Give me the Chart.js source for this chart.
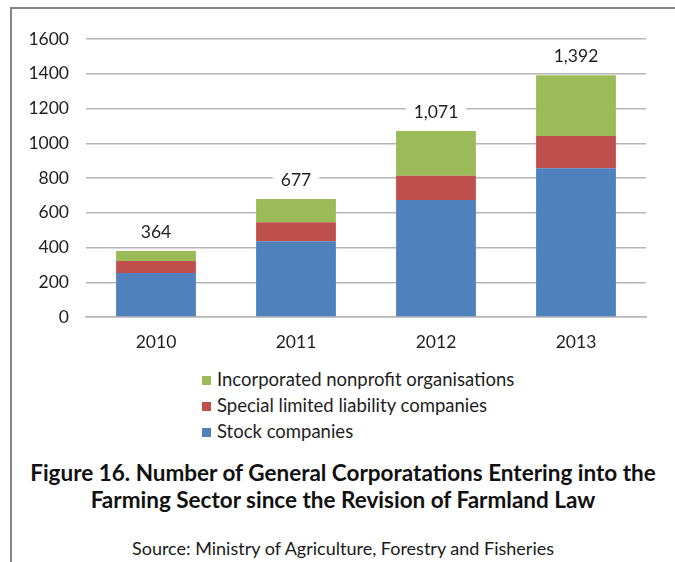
<!DOCTYPE html>
<html>
<head>
<meta charset="utf-8">
<script src="https://cdn.jsdelivr.net/npm/chart.js@4.4.1/dist/chart.umd.min.js"></script>
<style>
    body { margin: 0; background: #fff; font-family: Lato, sans-serif; color: #222; }
    #pagina { position: relative; width: 675px; height: 562px; overflow: hidden; }
    #marco { position: absolute; left: 10px; top: 7px; right: -5px; bottom: -5px;
             border-left: 2px solid #858585; border-top: 2px solid #858585; }
    #grafico { position: absolute; left: 0; top: 0; }
    #leyenda { position: absolute; left: 202px; top: 366px; font-size: 18.5px; line-height: 26px; color: #1e1e1e; }
    #leyenda .cuadro { display: inline-block; width: 9px; height: 9px; margin-right: 6px; vertical-align: 1px; }
    #titulo { position: absolute; left: 11px; width: 664px; top: 459px; text-align: center;
              font-weight: bold; font-size: 22.5px; line-height: 27px; color: #111; }
    #fuente { position: absolute; left: 11px; width: 664px; top: 536px; text-align: center;
              font-size: 18px; line-height: 24px; color: #1a1a1a; }
</style>
</head>
<body>
<div id="pagina">
    <div id="marco"></div>
    <canvas id="grafico" width="675" height="360"></canvas>
    <div id="leyenda"></div>
    <div id="titulo">Figure 16. Number of General Corporatations Entering into the<br>Farming Sector since the Revision of Farmland Law</div>
    <div id="fuente">Source: Ministry of Agriculture, Forestry and Fisheries</div>
</div>
<script>
    const anios = ['2010', '2011', '2012', '2013'];
    const sociedadesAnonimas = [253, 436, 673, 856];
    const responsabilidadLimitada = [69, 109, 140, 186];
    const sinFinesDeLucro = [58, 134, 258, 350];
    const etiquetasTotales = ['364', '677', '1,071', '1,392'];
    const ticksY = [0, 200, 400, 600, 800, 1000, 1200, 1400, 1600];

    const fuente = 'Lato, sans-serif';

    // Etiqueta del total sobre cada columna, con fondo blanco que corta la cuadrícula
    const totalesPlugin = {
        id: 'totales',
        afterDatasetsDraw: function (chart) {
            const ctx = chart.ctx;
            const escalaX = chart.scales.x;
            const escalaY = chart.scales.y;

            ctx.save();
            ctx.font = '17.5px ' + fuente;
            ctx.textAlign = 'center';
            ctx.textBaseline = 'middle';

            anios.forEach(function (anio, i) {
                const tope = chart.data.datasets.reduce(function (suma, ds) {
                    return suma + Number(ds.data[i] || 0);
                }, 0);
                const x = escalaX.getPixelForValue(i);
                const y = escalaY.getPixelForValue(tope) - 20;
                const texto = etiquetasTotales[i];
                const ancho = ctx.measureText(texto).width;

                ctx.fillStyle = '#fff';
                ctx.fillRect(x - ancho / 2 - 8, y - 11, ancho + 16, 22);
                ctx.fillStyle = '#1e1e1e';
                ctx.fillText(texto, x, y + 1);
            });
            ctx.restore();
        }
    };

    const grafico = new Chart(document.getElementById('grafico').getContext('2d'), {
        type: 'bar',
        data: {
            labels: anios,
            datasets: [
                { label: 'Stock companies', data: sociedadesAnonimas, backgroundColor: '#4f81bd' },
                { label: 'Special limited liability companies', data: responsabilidadLimitada, backgroundColor: '#c0504d' },
                { label: 'Incorporated nonprofit organisations', data: sinFinesDeLucro, backgroundColor: '#9bbb59' }
            ]
        },
        plugins: [totalesPlugin],
        options: {
            responsive: false,
            devicePixelRatio: 1,
            animation: false,
            layout: { padding: { left: 20, right: 29, top: 39, bottom: 0 } },
            datasets: {
                bar: { categoryPercentage: 1, barPercentage: 0.57, borderWidth: 0 }
            },
            scales: {
                x: {
                    stacked: true,
                    afterFit: function (escala) { escala.height = 43; },
                    grid: { display: false, drawTicks: false },
                    border: { display: true, color: '#b5b5b5', width: 1.5 },
                    ticks: { padding: 15, color: '#1e1e1e', font: { family: fuente, size: 17.5 } }
                },
                y: {
                    stacked: true,
                    min: 0,
                    max: 1600,
                    afterFit: function (escala) { escala.width = 66; },
                    afterBuildTicks: function (escala) {
                        escala.ticks = ticksY.map(function (v) { return { value: v }; });
                    },
                    grid: { color: '#b5b5b5', lineWidth: 1.5, drawTicks: false },
                    border: { display: false },
                    ticks: {
                        padding: 17,
                        color: '#1e1e1e',
                        font: { family: fuente, size: 17.5 },
                        callback: function (valor) { return String(valor); }
                    }
                }
            },
            plugins: {
                legend: { display: false },
                tooltip: { enabled: false }
            }
        }
    });

    // Leyenda en lista vertical, en orden inverso al apilado
    const leyenda = document.getElementById('leyenda');
    grafico.data.datasets.slice().reverse().forEach(function (ds) {
        const fila = document.createElement('div');
        const cuadro = document.createElement('span');
        cuadro.className = 'cuadro';
        cuadro.style.background = ds.backgroundColor;
        fila.appendChild(cuadro);
        fila.appendChild(document.createTextNode(ds.label));
        leyenda.appendChild(fila);
    });
</script>
</body>
</html>
